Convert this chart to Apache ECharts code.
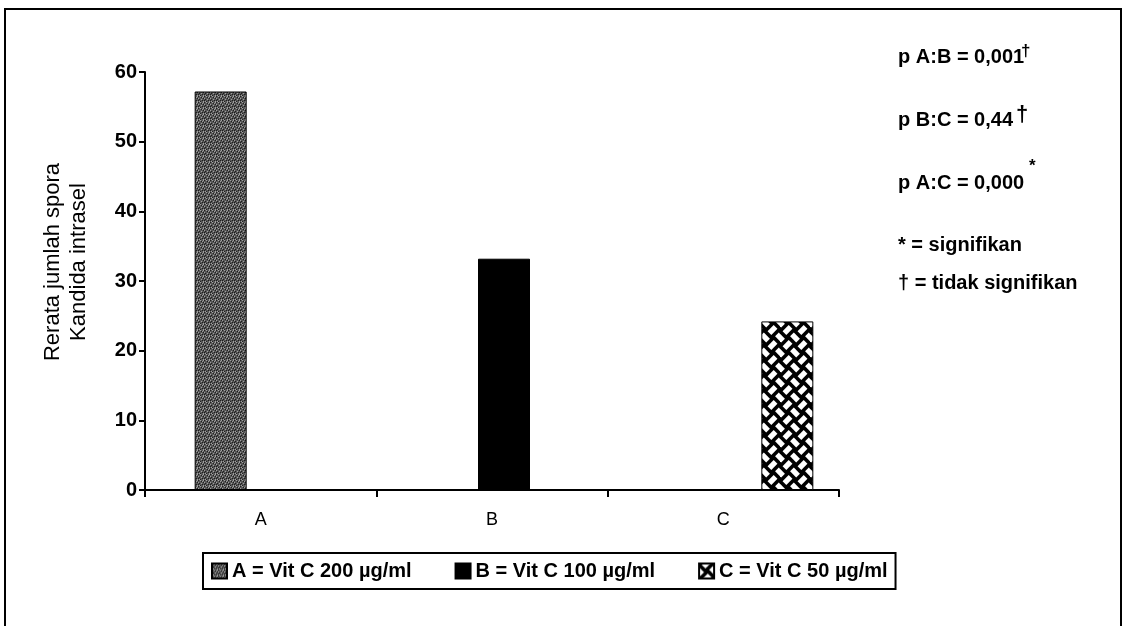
<!DOCTYPE html>
<html>
<head>
<meta charset="utf-8">
<script src="https://cdn.jsdelivr.net/npm/echarts@6/dist/echarts.min.js"></script>
<style>
  html,body{margin:0;padding:0;background:#fff;}
  #chart{width:1125px;height:626px;}
</style>
</head>
<body>
<div id="chart"></div>
<script>
const categories=['A','B','C'];
const seriesNames=['A = Vit C 200 µg/ml','B = Vit C 100 µg/ml','C = Vit C 50 µg/ml'];
const valuesA=[57.2,null,null];
const valuesB=[null,33.2,null];
const valuesC=[null,null,24.2];
const yMin=0, yMax=60, yStep=10;
const notes=['p A:B = 0,001','p B:C = 0,44','p A:C = 0,000','* = signifikan','† = tidak signifikan'];

const font='"Liberation Sans", Arial, sans-serif';

// grey stipple for A
function stipple(){
    let c=document.createElement('canvas');
    c.width=c.height=6;
    let ctx=c.getContext('2d');
    ctx.fillStyle='#575757';
    ctx.fillRect(0,0,6,6);
    let dark=[[0,0],[3,1],[5,2],[1,3],[4,4],[2,5],[0,4]];
    let light=[[2,0],[5,0],[0,2],[3,3],[1,5],[4,1],[5,5]];
    ctx.fillStyle='#1e1e1e';
    dark.forEach(p=>ctx.fillRect(p[0],p[1],1,1));
    ctx.fillStyle='#a0a0a0';
    light.forEach(p=>ctx.fillRect(p[0],p[1],1,1));
    return c;
}

// basket weave for C
function weave(){
    const T=30;
    let c=document.createElement('canvas');
    c.width=c.height=T;
    let ctx=c.getContext('2d');
    ctx.fillStyle='#000';
    ctx.fillRect(0,0,T,T);
    ctx.translate(T/2,T/2);
    ctx.rotate(Math.PI/4);
    let h=T/Math.SQRT2/2;
    ctx.fillStyle='#fff';
    for(let i=-4;i<=4;i++){
        for(let j=-4;j<=4;j++){
            let x=i*h, y=j*h;
            if(((i+j)%2+2)%2===0){
                ctx.fillRect(x+1,y+h*0.25,h-2,h*0.5);
            }else{
                ctx.fillRect(x+h*0.25,y+1,h*0.5,h-2);
            }
        }
    }
    return c;
}

const fillA={image:stipple(),repeat:'repeat'};
const fillC={image:weave(),repeat:'repeat'};

let chart=echarts.init(document.getElementById('chart'));

function barSeries(name,data,fill){
    return {
        name,
        type:'bar',
        xAxisIndex:1,
        yAxisIndex:1,
        data,
        barWidth:52,
        barGap:'0%',
        itemStyle:{color:fill,borderColor:'#000',borderWidth:1},
        emphasis:{disabled:true}
    };
}

let noteStyle={fill:'#000',font:'bold 20px '+font,verticalAlign:'middle',align:'left'};

let option={
    animation:false,
    backgroundColor:'#fff',
    grid:[
        {left:145,right:286,top:72,bottom:136},
        {left:157,right:274,top:72,bottom:136}
    ],
    xAxis:[
        {
            type:'category',
            gridIndex:0,
            data:categories,
            boundaryGap:true,
            axisLine:{lineStyle:{color:'#000',width:2}},
            axisTick:{show:true,length:7,lineStyle:{color:'#000',width:2}},
            axisLabel:{color:'#000',fontSize:18,fontFamily:font,margin:21}
        },
        {
            type:'category',
            gridIndex:1,
            data:categories,
            show:false
        }
    ],
    yAxis:[
        {
            type:'value',
            gridIndex:0,
            min:yMin,max:yMax,interval:yStep,
            splitLine:{show:false},
            axisLine:{show:true,lineStyle:{color:'#000',width:2}},
            axisTick:{show:true,length:6,lineStyle:{color:'#000',width:2}},
            axisLabel:{color:'#000',fontSize:20,fontWeight:'bold',fontFamily:font,margin:8}
        },
        {
            type:'value',
            gridIndex:1,
            min:yMin,max:yMax,
            show:false,
            splitLine:{show:false}
        }
    ],
    legend:{
        left:203,
        top:553,
        orient:'horizontal',
        data:seriesNames,
        icon:'rect',
        itemWidth:15,
        itemHeight:15,
        itemGap:43,
        padding:[8,8,8,8],
        borderColor:'#000',
        borderWidth:2,
        selectedMode:false,
        textStyle:{color:'#000',fontSize:20,fontWeight:'bold',fontFamily:font}
    },
    series:[
        barSeries(seriesNames[0],valuesA,fillA),
        barSeries(seriesNames[1],valuesB,'#000'),
        barSeries(seriesNames[2],valuesC,fillC)
    ],
    graphic:[
        {type:'rect',shape:{x:5,y:9,width:1116,height:660},style:{fill:null,stroke:'#000',lineWidth:2},silent:true},
        {type:'text',x:66,y:262,rotation:Math.PI/2,
            style:{text:'Rerata jumlah spora\nKandida intrasel',fill:'#000',font:'22px '+font,lineHeight:26,align:'center',verticalAlign:'middle'}},
        {type:'text',x:898,y:57,style:Object.assign({text:notes[0]},noteStyle)},
        {type:'text',x:1021,y:51,style:{text:'†',fill:'#000',font:'bold 17px '+font,verticalAlign:'middle'}},
        {type:'text',x:898,y:120,style:Object.assign({text:notes[1]},noteStyle)},
        {type:'text',x:1016,y:115,style:{text:'†',fill:'#000',font:'bold 22px '+font,verticalAlign:'middle'}},
        {type:'text',x:898,y:183,style:Object.assign({text:notes[2]},noteStyle)},
        {type:'text',x:1029,y:166,style:{text:'*',fill:'#000',font:'bold 17px '+font,verticalAlign:'middle'}},
        {type:'text',x:898,y:245,style:Object.assign({text:notes[3]},noteStyle)},
        {type:'text',x:898,y:283,style:Object.assign({text:notes[4]},noteStyle)}
    ]
};

chart.setOption(option);
</script>
</body>
</html>
